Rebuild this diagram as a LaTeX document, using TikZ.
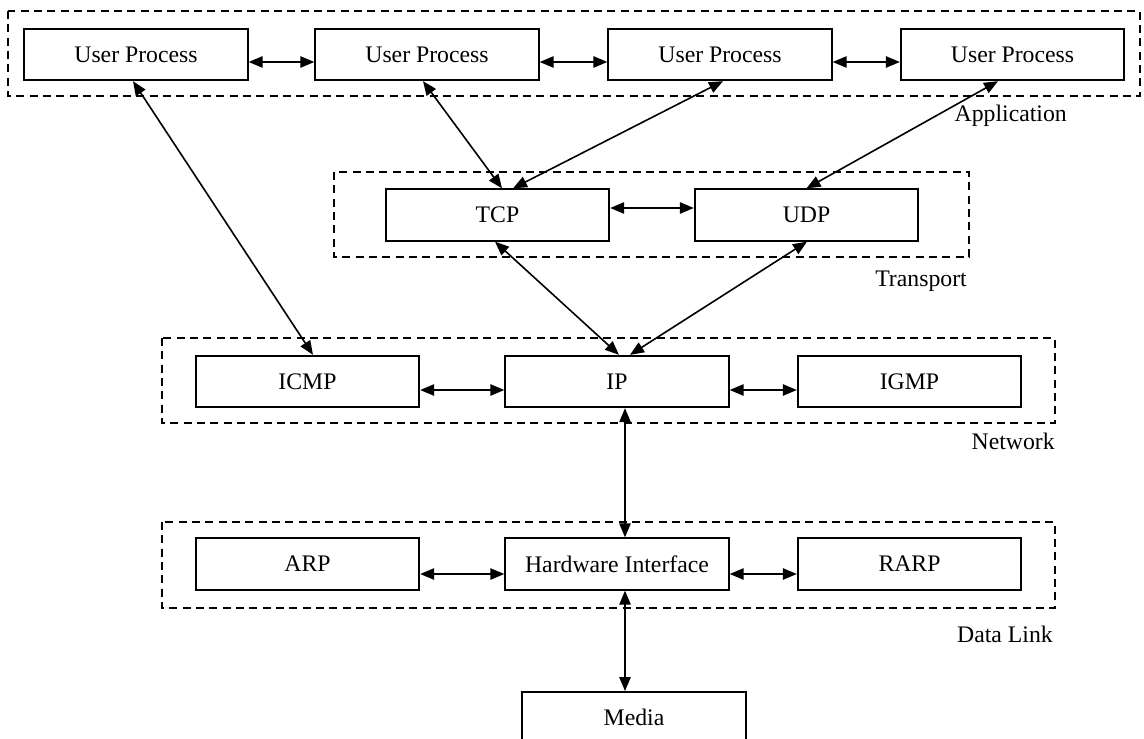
\documentclass[tikz,border=0pt]{standalone}
\usepackage{fontspec}
\setmainfont{Liberation Serif}
\usetikzlibrary{arrows.meta,calc}
\begin{document}
\begin{tikzpicture}[x=0.75pt,y=-0.75pt,
  box/.style={draw, line width=1.4pt, minimum width=167.6pt, minimum height=38.6pt, inner sep=0pt, font=\fontsize{17.8}{20}\selectfont},
  layerframe/.style={draw, dash pattern=on 6pt off 4pt, line width=1.2pt},
  lbl/.style={font=\fontsize{17.8}{20}\selectfont, inner sep=0pt, anchor=base east},
  link/.style={{Triangle[length=10.5pt,width=8.5pt]}-{Triangle[length=10.5pt,width=8.5pt]}, line width=1.2pt}]
\useasboundingbox[fill=white] (0,0) rectangle (1144,738);

% layer frames
\draw[layerframe] (8,11) rectangle (1140,96);
\draw[layerframe] (334,172) rectangle (969,257);
\draw[layerframe] (162,338) rectangle (1055,423);
\draw[layerframe] (162,522) rectangle (1055,608);

% layer labels
\node[lbl] (lapp) at (1067,122) {Application};
\node[lbl] (ltr) at (967,286) {Transport};
\node[lbl] (lnet) at (1055,449) {Network};
\node[lbl] (ldl) at (1053,642) {Data Link};

% boxes
\node[box] (up1) at (136,54.5) {User Process};
\node[box] (up2) at (427,54.5) {User Process};
\node[box] (up3) at (720,54.5) {User Process};
\node[box] (up4) at (1012.5,54.5) {User Process};
\node[box] (tcp) at (497.5,215) {TCP};
\node[box] (udp) at (806.5,215) {UDP};
\node[box] (icmp) at (307.5,381.5) {ICMP};
\node[box] (ip) at (617,381.5) {IP};
\node[box] (igmp) at (909.5,381.5) {IGMP};
\node[box] (arp) at (307.5,564) {ARP};
\node[box] (hw) at (617,564) {Hardware Interface};
\node[box] (rarp) at (909.5,564) {RARP};
\node[box] (media) at (634,717.75) {Media};

% horizontal links
\draw[link] ($(up1.east)+(0,7.5)$) -- ($(up2.west)+(0,7.5)$);
\draw[link] ($(up2.east)+(0,7.5)$) -- ($(up3.west)+(0,7.5)$);
\draw[link] ($(up3.east)+(0,7.5)$) -- ($(up4.west)+(0,7.5)$);
\draw[link] ($(tcp.east)+(0,-7)$) -- ($(udp.west)+(0,-7)$);
\draw[link] ($(icmp.east)+(0,8.5)$) -- ($(ip.west)+(0,8.5)$);
\draw[link] ($(ip.east)+(0,8.5)$) -- ($(igmp.west)+(0,8.5)$);
\draw[link] ($(arp.east)+(0,10)$) -- ($(hw.west)+(0,10)$);
\draw[link] ($(hw.east)+(0,10)$) -- ($(rarp.west)+(0,10)$);

% diagonal links
\draw[link] ($(up1.south)+(-3,0)$) -- ($(icmp.north)+(5.5,0)$);
\draw[link] ($(up2.south)+(-4,0)$) -- ($(tcp.north)+(4.5,0)$);
\draw[link] ($(up3.south)+(3,0)$) -- ($(tcp.north)+(15.5,0)$);
\draw[link] ($(up4.south)+(-14.5,0)$) -- ($(udp.north)+(0,0)$);
\draw[link] ($(tcp.south)+(-2.5,0)$) -- ($(ip.north)+(2,0)$);
\draw[link] ($(udp.south)+(0.5,0)$) -- ($(ip.north)+(13,0)$);

% vertical links
\draw[link] ($(ip.south)+(8,0)$) -- ($(hw.north)+(8,0)$);
\draw[link] ($(hw.south)+(8,0)$) -- ($(media.north)+(-9,0)$);
\end{tikzpicture}
\end{document}
